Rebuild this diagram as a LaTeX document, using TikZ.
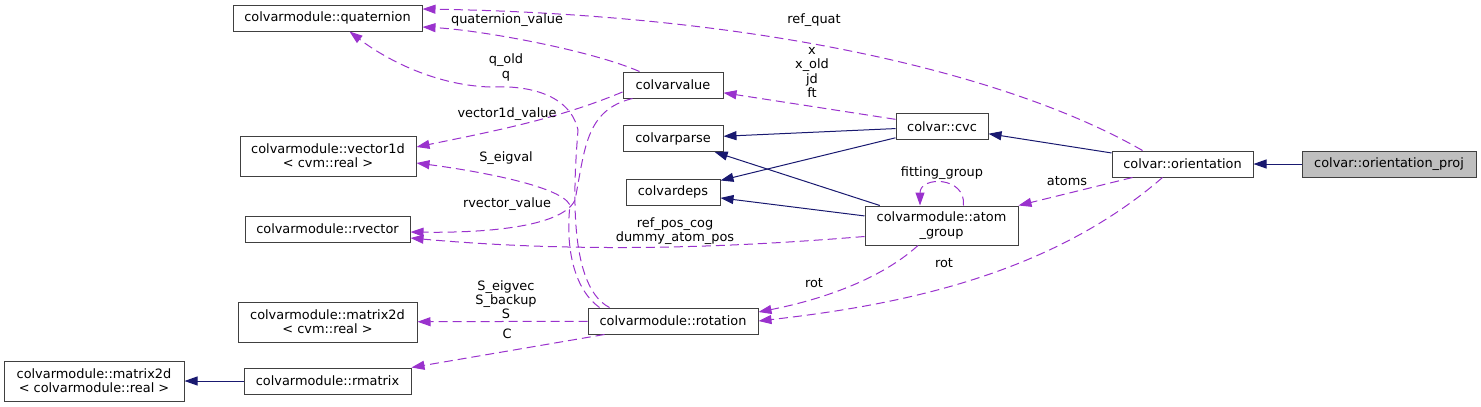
\documentclass[tikz,border=0pt]{standalone}
\usepackage{fontspec}
\setmainfont{DejaVu Sans}
\usepackage{tikz}
\usetikzlibrary{arrows.meta,calc}
\definecolor{cvblue}{RGB}{25,25,112}
\definecolor{cvpurple}{RGB}{154,50,205}
\definecolor{cvline}{RGB}{64,64,64}
\definecolor{cvgray}{RGB}{191,191,191}

\begin{document}
\begin{tikzpicture}[x=1pt,y=-1pt,
  cls/.style={draw=cvline,line width=1pt,fill=white,align=center,inner sep=0pt,
              minimum height=26pt,font=\fontsize{12.9}{14.3}\selectfont},
  inh/.style={-{Triangle[length=13pt,width=9pt]},draw=cvblue,line width=1pt},
  usedep/.style={-{Triangle[length=13pt,width=9pt]},draw=cvpurple,line width=1pt,
                 dash pattern=on 9pt off 5pt},
  lbl/.style={align=center,inner sep=0pt,font=\fontsize{12.9}{14.3}\selectfont}
]
\useasboundingbox (0,0) rectangle (1481,407);
% classes
\node[cls,minimum width=189pt] (quat) at (327.5,18) {colvarmodule::quaternion};
\node[cls,minimum width=176pt,minimum height=40pt] (vecone) at (328,156)
  {colvarmodule::vector1d\\< cvm::real >};
\node[cls,minimum width=165pt] (rvec) at (327.5,229) {colvarmodule::rvector};
\node[cls,minimum width=179pt,minimum height=40pt] (mcvm) at (327.5,322)
  {colvarmodule::matrix2d\\< cvm::real >};
\node[cls,minimum width=180pt,minimum height=40pt] (mreal) at (94,381)
  {colvarmodule::matrix2d\\< colvarmodule::real >};
\node[cls,minimum width=167pt] (rmat) at (327.5,381) {colvarmodule::rmatrix};
\node[cls,minimum width=100pt] (value) at (673,85) {colvarvalue};
\node[cls,minimum width=100pt] (parse) at (673,138.5) {colvarparse};
\node[cls,minimum width=94pt] (deps) at (673,192) {colvardeps};
\node[cls,minimum width=92pt] (cvc) at (942,126.5) {colvar::cvc};
\node[cls,minimum width=153pt,minimum height=39pt] (atoms) at (941.5,225.5)
  {colvarmodule::atom\\\_group};
\node[cls,minimum width=170pt] (rot) at (673,321) {colvarmodule::rotation};
\node[cls,minimum width=141pt] (orient) at (1182.5,164) {colvar::orientation};
\node[cls,minimum width=174pt,fill=cvgray] (proj) at (1389,164) {colvar::orientation\_proj};
% inheritance
\draw[inh] (proj) -- (orient);
\draw[inh] (orient) -- (cvc);
\draw[inh] (cvc) -- (parse);
\draw[inh] (cvc) -- (deps);
\draw[inh] (atoms) -- (parse);
\draw[inh] (atoms) -- (deps);
\draw[inh] (rmat) -- (mreal);
% usage
\draw[usedep] (cvc) -- (value);
\draw[usedep] ($(orient.north west)+(31,0)$) .. controls (1020,80) and (780,15) .. ($(quat.east)+(0,-9)$);
\draw[usedep] ($(value.north west)+(17,0)$) .. controls (590,50) and (480,30) .. ($(quat.east)+(0,9)$);
\draw[usedep] ($(value.west)+(0,7)$) .. controls (560,118) and (500,130) .. ($(vecone.east)+(0,-9)$);
\draw[usedep] ($(value.south west)+(10,0)$) .. controls (585,110) and (585,150) .. (575,200)
  .. controls (562,228) and (480,233) .. ($(rvec.east)+(0,3)$);
\draw[usedep] ($(rot.north west)+(22,0)$) .. controls (565,285) and (575,170) .. (578,130)
  .. controls (570,95) and (530,85) .. (490,87) .. controls (430,85) and (380,55) .. ($(quat.south)+(22,0)$);
\draw[usedep] ($(rot.north west)+(12,0)$) .. controls (575,290) and (565,250) .. (570,205)
  .. controls (560,185) and (470,170) .. ($(vecone.east)+(0,7)$);
\draw[usedep] ($(atoms.west)+(0,11)$) .. controls (760,245) and (600,255) .. ($(rvec.east)+(0,9)$);
\draw[usedep] ($(atoms.north)+(22,0)$) .. controls (966,176) and (920,176) .. ($(atoms.north)+(-21.5,0)$);
\draw[usedep] ($(orient.south west)+(21,0)$) -- (atoms.north east);
\draw[usedep] ($(atoms.south)+(-23.5,0)$) .. controls (880,280) and (820,300) .. ($(rot.east)+(0,-9)$);
\draw[usedep] ($(orient.south west)+(51,0)$) .. controls (1050,275) and (900,305) .. (rot.east);
\draw[usedep] (rot) -- (mcvm);
\draw[usedep] ($(rot.south west)+(17,0)$) -- (rmat.north east);
% edge labels
\node[lbl] (lrefquat) at (814,20) {ref\_quat};
\node[lbl] (lquatval) at (507,20) {quaternion\_value};
\node[lbl] (lq) at (506,67.5) {q\_old\\q};
\node[lbl] (lx) at (812,72.5) {x\\x\_old\\jd\\ft};
\node[lbl] (lvecval) at (507,114) {vector1d\_value};
\node[lbl] (leigval) at (506,158) {S\_eigval};
\node[lbl] (lrvecval) at (507,204) {rvector\_value};
\node[lbl] (lrefpos) at (675,231) {ref\_pos\_cog\\dummy\_atom\_pos};
\node[lbl] (lfit) at (942,173) {fitting\_group};
\node[lbl] (latoms) at (1067,181) {atoms};
\node[lbl] (lrotone) at (814,283) {rot};
\node[lbl] (lrottwo) at (944,263) {rot};
\node[lbl] (leigvec) at (506,299.5) {S\_eigvec\\S\_backup\\S};
\node[lbl] (lc) at (507,334) {C};
\end{tikzpicture}
\end{document}
